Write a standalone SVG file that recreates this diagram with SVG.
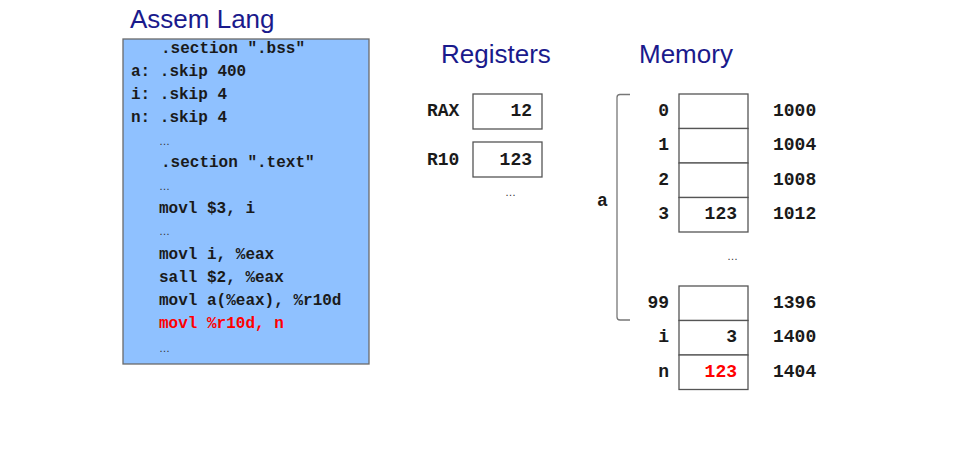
<svg xmlns="http://www.w3.org/2000/svg" width="963" height="461" viewBox="0 0 963 461">
<style>
.title{font-family:"Liberation Sans",Arial,sans-serif;font-size:26px;fill:#1a1a8c}
.code{font-family:"Liberation Mono","Courier New",monospace;font-weight:bold;font-size:16px;fill:#1a1a1a}
.ell{font-family:"Liberation Sans",Arial,sans-serif;font-size:11px;fill:#333}
.mono{font-family:"Liberation Mono","Courier New",monospace;font-weight:bold;font-size:18px;fill:#1a1a1a}
text.red{fill:#ff0000}
.cell{fill:#ffffff;stroke:#555555;stroke-width:1.3}
.r{text-anchor:end}
</style>
<rect width="963" height="461" fill="#ffffff"/>
<g id="code-panel">
<text class="title" x="130" y="28">Assem Lang</text>
<rect x="123" y="39" width="246" height="325" fill="#8fc1ff" stroke="#6a6a6a" stroke-width="1.3"/>
<text class="code" x="161" y="53">.section ".bss"</text>
<text class="code" x="131" y="76">a: .skip 400</text>
<text class="code" x="131" y="99">i: .skip 4</text>
<text class="code" x="131" y="122">n: .skip 4</text>
<text class="ell" x="159" y="145">…</text>
<text class="code" x="161" y="167">.section ".text"</text>
<text class="ell" x="159" y="190">…</text>
<text class="code" x="159" y="213">movl $3, i</text>
<text class="ell" x="159" y="235">…</text>
<text class="code" x="159" y="259">movl i, %eax</text>
<text class="code" x="159" y="282">sall $2, %eax</text>
<text class="code" x="159" y="305">movl a(%eax), %r10d</text>
<text class="code red" x="159" y="328">movl %r10d, n</text>
<text class="ell" x="159" y="352">…</text>
</g>
<g id="registers">
<text class="title" x="441" y="63">Registers</text>
<g id="reg-rax">
<text class="mono" x="427" y="116">RAX</text>
<rect class="cell" x="473" y="94" width="69" height="35"/>
<text class="mono r" x="532" y="116">12</text>
</g>
<g id="reg-r10">
<text class="mono" x="427" y="165">R10</text>
<rect class="cell" x="473" y="142" width="69" height="35"/>
<text class="mono r" x="532" y="165">123</text>
</g>
<text class="ell" x="505" y="196">…</text>
</g>
<g id="memory">
<text class="title" x="639" y="63">Memory</text>
<g id="mem-a0"><rect class="cell" x="679" y="94" width="69" height="34.5"/><text class="mono r" x="669" y="116">0</text><text class="mono" x="773" y="116">1000</text></g>
<g id="mem-a1"><rect class="cell" x="679" y="128.5" width="69" height="34.5"/><text class="mono r" x="669" y="150">1</text><text class="mono" x="773" y="150">1004</text></g>
<g id="mem-a2"><rect class="cell" x="679" y="163" width="69" height="34.5"/><text class="mono r" x="669" y="185">2</text><text class="mono" x="773" y="185">1008</text></g>
<g id="mem-a3"><rect class="cell" x="679" y="197.5" width="69" height="34.5"/><text class="mono r" x="669" y="219">3</text><text class="mono r" x="737" y="219">123</text><text class="mono" x="773" y="219">1012</text></g>
<text class="ell" x="727" y="260">…</text>
<g id="mem-a99"><rect class="cell" x="679" y="286" width="69" height="34.5"/><text class="mono r" x="669" y="308">99</text><text class="mono" x="773" y="308">1396</text></g>
<g id="mem-i"><rect class="cell" x="679" y="320.5" width="69" height="34.5"/><text class="mono r" x="669" y="342">i</text><text class="mono r" x="737" y="342">3</text><text class="mono" x="773" y="342">1400</text></g>
<g id="mem-n"><rect class="cell" x="679" y="355" width="69" height="34.5"/><text class="mono r" x="669" y="377">n</text><text class="mono r red" x="737" y="377">123</text><text class="mono" x="773" y="377">1404</text></g>
</g>
<g id="connectors">
<path d="M630,94.5 L620,94.5 Q617,94.5 617,97.5 L617,317 Q617,320 620,320 L630,320" fill="none" stroke="#777777" stroke-width="1.3"/>
<text class="mono" x="597" y="206">a</text>
</g>
</svg>
